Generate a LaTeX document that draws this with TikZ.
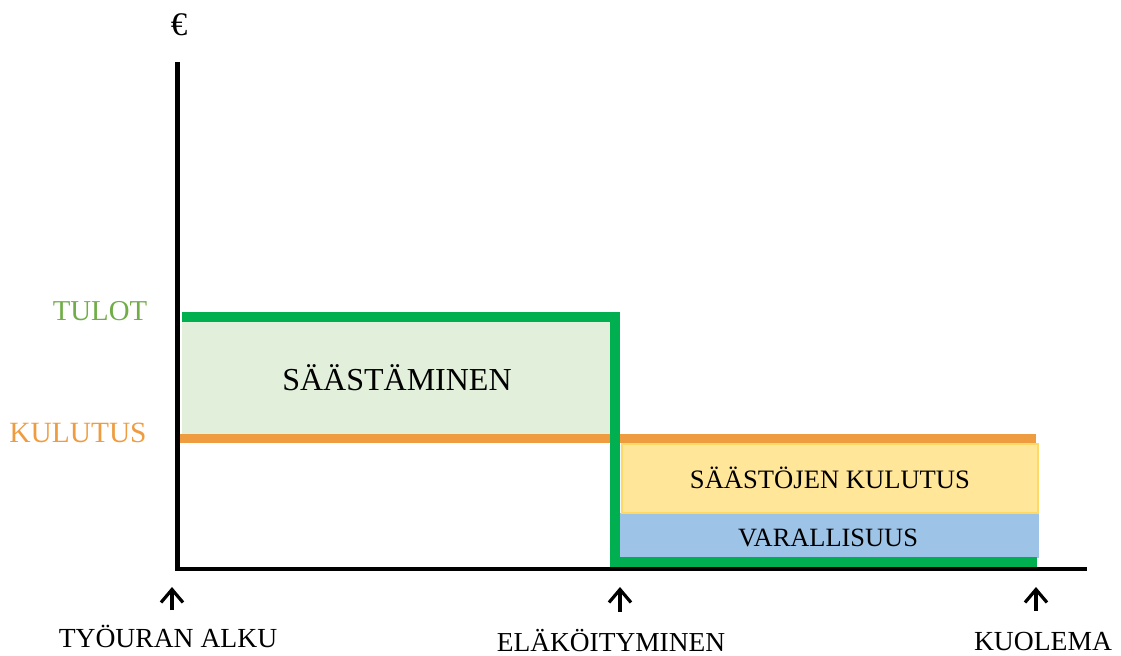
\documentclass[tikz,border=0pt]{standalone}
\usepackage{fontspec}
\setmainfont{Liberation Serif}
\usetikzlibrary{arrows.meta}
\definecolor{axisgreen}{RGB}{0,176,80}
\definecolor{tulotgreen}{RGB}{112,173,71}
\definecolor{lineorange}{RGB}{239,156,64}
\definecolor{savefill}{RGB}{226,239,218}
\definecolor{yellowfill}{RGB}{255,230,153}
\definecolor{yellowedge}{RGB}{255,217,102}
\definecolor{bluefill}{RGB}{157,195,230}
\tikzset{
  lbl/.style={anchor=base, inner sep=0pt, text=black},
  axisline/.style={line width=2.3pt, black},
  incline/.style={line width=4.6pt, axisgreen, line join=miter},
  conline/.style={line width=4.8pt, lineorange},
  uparrow/.style={line width=1.6pt, black, -{Straight Barb[length=6.5pt,width=11pt,line width=1.6pt]}},
}
\begin{document}
\begin{tikzpicture}[x=0.5pt,y=-0.5pt]
\useasboundingbox (0,0) rectangle (1121,655);
% fills
\fill[savefill] (182,321) rectangle (612,434);
\fill[bluefill] (620,513) rectangle (1039,558);
\draw[yellowedge, fill=yellowfill, line width=0.8pt] (622,444) rectangle (1038,513);
% consumption lines
\draw[conline] (177,438.5) -- (613,438.5);
\draw[conline] (620,438.5) -- (1036,438.5);
% income line
\coordinate (i1) at (182,317);
\coordinate (i2) at (615,317);
\coordinate (i3) at (615,562);
\coordinate (i4) at (1037,562);
\draw[incline] (i1) -- (i2) -- (i3) -- (i4);
% axes
\coordinate (yt) at (177.5,62);
\coordinate (o) at (177.5,569);
\coordinate (xr) at (1087,569);
\draw[axisline, line join=miter] (yt) -- (o) -- (xr);
% labels
\node[lbl, font=\fontsize{16.5}{18}\selectfont] (euro) at (179,35) {€};
\node[lbl, text=tulotgreen, font=\fontsize{14.4}{16}\selectfont] (tulot) at (100,320) {TULOT};
\node[lbl, text=lineorange, font=\fontsize{14.7}{16}\selectfont, anchor=base east] (kulutus) at (147,442) {KULUTUS};
\node[lbl, font=\fontsize{16}{18}\selectfont] (saast) at (397,390) {SÄÄSTÄMINEN};
\node[lbl, font=\fontsize{13.3}{15}\selectfont] (skul) at (830,488) {SÄÄSTÖJEN KULUTUS};
\node[lbl, font=\fontsize{13.2}{15}\selectfont] (varal) at (828,546) {VARALLISUUS};
\node[lbl, font=\fontsize{13.8}{15}\selectfont] (alku) at (168,647) {TYÖURAN ALKU};
\node[lbl, font=\fontsize{13.7}{15}\selectfont] (elak) at (611,651) {ELÄKÖITYMINEN};
\node[lbl, font=\fontsize{13.8}{15}\selectfont] (kuol) at (1043,650) {KUOLEMA};
% arrows
\coordinate (a1b) at (172,610);
\coordinate (a1t) at (172,587);
\coordinate (a2b) at (620,612);
\coordinate (a2t) at (620,587);
\coordinate (a3b) at (1036,611);
\coordinate (a3t) at (1036,587);
\draw[uparrow] (a1b) -- (a1t);
\draw[uparrow] (a2b) -- (a2t);
\draw[uparrow] (a3b) -- (a3t);
\end{tikzpicture}
\end{document}
